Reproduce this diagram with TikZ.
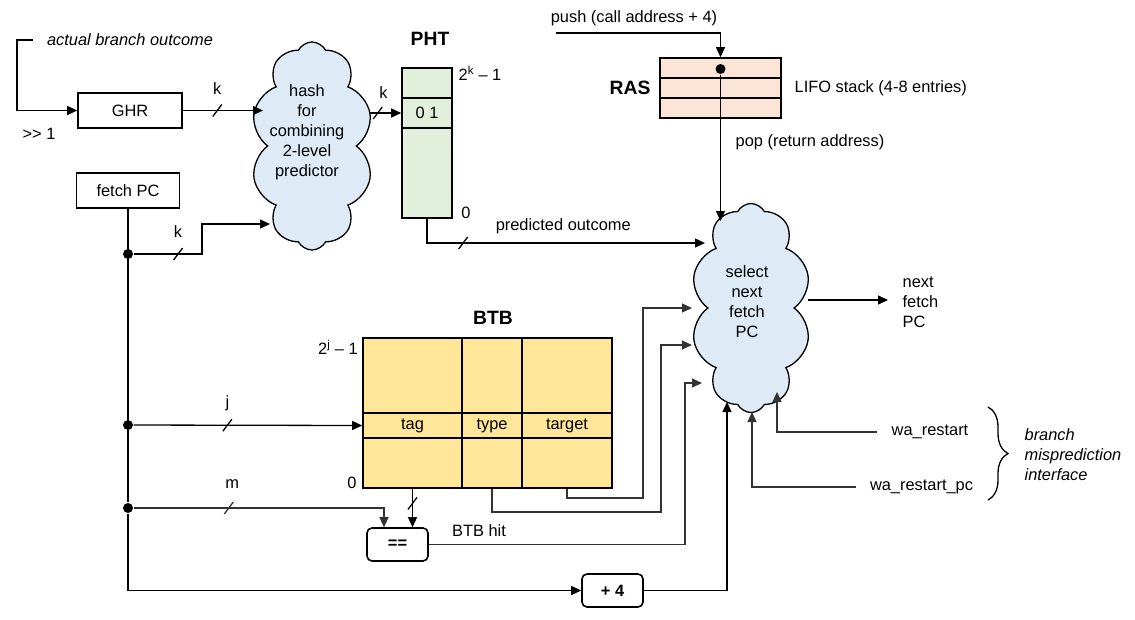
\documentclass[tikz,border=0pt]{standalone}
\usepackage{fontspec}
\setmainfont{Liberation Sans}
\usetikzlibrary{matrix, arrows.meta, shapes.symbols, decorations.pathreplacing}

\definecolor{hashblue}{RGB}{222,235,247}
\definecolor{phtgreen}{RGB}{226,239,218}
\definecolor{raspink}{RGB}{252,229,214}
\definecolor{btbyellow}{RGB}{255,230,153}

\tikzset{
  blk/.style = {draw, line width=1.6pt, minimum width=104, minimum height=35},
  op/.style = {draw, line width=1.6pt, rounded corners=5pt, minimum width=61, minimum height=33, font=\bfseries},
  blob/.style = {draw, cloud, cloud puffs=10, cloud puff arc=125, cloud ignores aspect, fill=hashblue, line width=1.3pt},
  cell/.style = {draw, line width=1.6pt, inner sep=0},
  jdot/.style = {circle, fill, inner sep=0, minimum size=10},
  title/.style = {font=\fontsize{19.3}{22}\selectfont\bfseries},
  wire/.style = {line width=1.1pt, draw=black!80},
  bus/.pic = {\draw[-, line width=1.3pt] (-4.5pt,-6pt) -- (4.5pt,6pt);},
}

\begin{document}
\fontsize{16.4}{20}\selectfont
\begin{tikzpicture}[x=1pt, y=-1pt, >={Triangle[length=10pt,width=9pt]}, line width=1.3pt]
\useasboundingbox (0,0) rectangle (1135,619);

% history register, fetch PC
\node[blk] (ghr) at (130,110.5) {GHR};
\node[blk, minimum width=103] (fpc) at (128,190.5) {fetch PC};
\node[font=\itshape] (abo) at (130,40) {actual branch outcome};
\node (shr) at (39,134) {>{}> 1};
\draw[->] ([xshift=-8pt]abo.west) -- ++(-16,0) |- (ghr.west);

\node[jdot] (d1) at (128,254) {};
\node[jdot] (d2) at (128,425) {};
\node[jdot] (d3) at (128,508) {};
\draw (fpc.south) -- (d3);

% hash cloud
\node[blob, minimum width=122, minimum height=208] (hash) at (312,146) {};
\node[align=center] (hashtxt) at (307,132) {hash\\for\\combining\\2-level\\predictor};
\coordinate (hghr) at (263,110.5);
\coordinate (hpc) at (270,224);
\coordinate (hout) at (369,113);
\draw[->] (ghr.east) -- (hghr) node[pos=.43, yshift=22pt] (k1) {k} pic[pos=.43]{bus};
\draw[->] (d1) -- ++(74,0) node[pos=.65, yshift=22pt] (k2) {k} pic[pos=.65]{bus} |- (hpc);

% PHT
\node[cell, fill=phtgreen, minimum width=50, minimum height=30] (pht1) at (427,83) {};
\node[cell, fill=phtgreen, minimum width=50, minimum height=30] (pht2) at (427,113) {0 1};
\node[cell, fill=phtgreen, minimum width=50, minimum height=90] (pht3) at (427,173) {};
\node[title] (phtlbl) at (430,39) {PHT};
\node[anchor=west, inner sep=0] (phthi) at (458,73) {2\textsuperscript{k} -- 1};
\node (phtlo) at (466,213) {0};
\draw[->] (hout) -- (pht2.west) node[pos=.45, yshift=20pt] (k3) {k} pic[pos=.27]{bus};

% RAS
\node[cell, fill=raspink, minimum width=121, minimum height=20] (ras1) at (720.5,68) {};
\node[cell, fill=raspink, minimum width=121, minimum height=20] (ras2) at (720.5,88) {};
\node[cell, fill=raspink, minimum width=121, minimum height=20] (ras3) at (720.5,108) {};
\node[title] (raslbl) at (630,88) {RAS};
\node[anchor=west, inner sep=0] (lifo) at (794,88) {LIFO stack (4-8 entries)};
\node (push) at (634,18) {push (call address + 4)};
\node (pop) at (810,142) {pop (return address)};
\coordinate (pushin) at (556,33);
\draw[->] (pushin) -| (ras1.north);
\node[jdot] (popdot) at (720.5,69) {};

% select next fetch PC
\node[blob, minimum width=120, minimum height=209] (sel) at (751,308) {};
\node[align=center] (seltxt) at (747,302) {select\\next\\fetch\\PC};
\node[anchor=west, align=left, inner sep=0] (nfpc) at (902,302) {next\\fetch\\PC};
\coordinate (spop) at (720.5,221);
\coordinate (spred) at (705,243);
\coordinate (stgt) at (692,308);
\coordinate (stype) at (692,345);
\coordinate (shit) at (702,383);
\coordinate (sinc) at (727,402);
\coordinate (srpc) at (752,412);
\coordinate (srst) at (777,392);
\coordinate (sout) at (808,300);
\coordinate (nfin) at (888,300);
\draw[->] (popdot) -- (spop);
\draw[->] (pht3.south) |- (spred) node[pos=.745, yshift=17pt] (predlbl) {predicted outcome} pic[pos=.565]{bus};
\draw[->] (sout) -- (nfin);

% BTB
\matrix (btb) [matrix of nodes, nodes in empty cells, column sep=-1.6pt, row sep=-1.6pt,
  nodes={cell, fill=btbyellow, anchor=center},
  row 1/.style={nodes={minimum height=75}}, row 2/.style={nodes={minimum height=25}},
  row 3/.style={nodes={minimum height=50}},
  column 1/.style={nodes={minimum width=99}}, column 2/.style={nodes={minimum width=60}},
  column 3/.style={nodes={minimum width=90}}] at (487.5,413) {
  & & \\
  tag & type & target \\
  & & \\
};
\node[title] (btblbl) at (493,318) {BTB};
\node (btbhi) at (338,347) {2\textsuperscript{j} -- 1};
\node (btblo) at (352,483) {0};
\draw[->] (d2) -- (btb-2-1.west) node[pos=.41, yshift=22pt] (jl) {j} pic[pos=.41]{bus};

\node[op] (eq) at (397.5,544.5) {==};
\node[op] (inc) at (612.5,590.5) {+ 4};
\node (hitlbl) at (479,531) {BTB hit};
\draw[->, wire] (d3) -| ([xshift=-13.5pt]eq.north) node[pos=.197, yshift=24pt] (ml) {m} pic[pos=.19]{bus};
\draw[->] (btb-3-1.south) -- (btb-3-1.south |- eq.north) pic[pos=.38]{bus};
\draw[->, wire] (btb-3-3.south) |- (643,498) |- (stgt);
\draw[->, wire] (btb-3-2.south) |- (661,512) |- (stype);
\draw[->, wire] (eq.east) -| (685,383) -- (shit);
\draw[->] (d3) |- (inc.west);
\draw[->] (inc.east) -| (sinc);

% misprediction interface
\node[inner xsep=14pt] (wr) at (930,432) {wa\_restart};
\node[inner xsep=13pt] (wrpc) at (921.5,487) {wa\_restart\_pc};
\draw[->, wire] (wr.west) -| (srst);
\draw[->, wire] (wrpc.west) -| (srpc);
\draw[decorate, decoration={brace, amplitude=20pt}] (988,407) -- (988,500);
\node[font=\itshape, align=left, anchor=west, inner sep=0] (bmi) at (1024,455) {branch\\misprediction\\interface};
\end{tikzpicture}
\end{document}
